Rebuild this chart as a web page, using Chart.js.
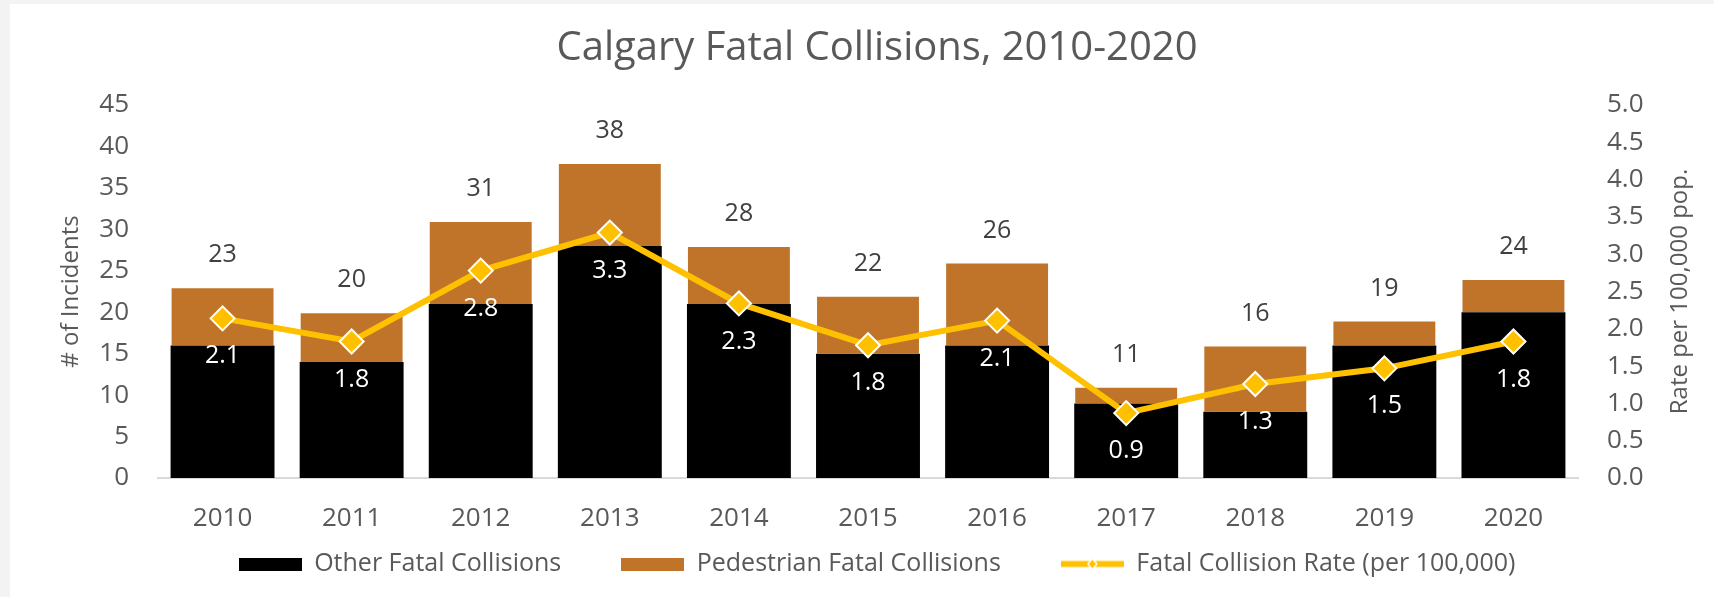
<!DOCTYPE html>
<html>
<head>
<meta charset="utf-8">
<script src="https://cdn.jsdelivr.net/npm/chart.js@4.4.1/dist/chart.umd.min.js"></script>
<style>
  body { margin: 0; background: #f3f3f3; }
  #wrap { position: absolute; left: 10px; top: 4px; width: 1704px; height: 593px; background: #fff; }
</style>
</head>
<body>
<div id="wrap"><canvas id="chart" width="1704" height="593"></canvas></div>
<script>
const years = ['2010','2011','2012','2013','2014','2015','2016','2017','2018','2019','2020'];
const other = [16, 14, 21, 28, 21, 15, 16, 9, 8, 16, 20];
const pedestrian = [7, 6, 10, 10, 7, 7, 10, 2, 8, 3, 4];
const rate = [2.14, 1.83, 2.78, 3.29, 2.34, 1.78, 2.11, 0.87, 1.26, 1.47, 1.83];

const FONT = "'Open Sans', sans-serif";
const GREY = '#595959';
const YELLOW = '#FFC000';
const ORANGE = '#C0742A';

function swatch(color){
  const c = document.createElement('canvas');
  c.width = 63; c.height = 13;
  const g = c.getContext('2d');
  g.fillStyle = color;
  g.fillRect(0, 0, 63, 13);
  return c;
}

function line_swatch(){
  const c = document.createElement('canvas');
  c.width = 63; c.height = 13;
  const g = c.getContext('2d');
  g.strokeStyle = YELLOW;
  g.lineWidth = 6;
  g.beginPath(); g.moveTo(0, 6.5); g.lineTo(63, 6.5); g.stroke();
  g.beginPath();
  g.moveTo(31.5, 1); g.lineTo(36, 6.5); g.lineTo(31.5, 12); g.lineTo(27, 6.5); g.closePath();
  g.fillStyle = YELLOW; g.fill();
  g.strokeStyle = '#fff'; g.lineWidth = 1.5; g.stroke();
  return c;
}

const legendIcons = [swatch('#000'), swatch(ORANGE), line_swatch()];
const legendText = ['Other Fatal Collisions', 'Pedestrian Fatal Collisions', 'Fatal Collision Rate (per 100,000)'];
const legendDs = [1, 2, 0];

const labelPlugin = {
  id: 'labels',
  afterDatasetsDraw(chart){
    const ctx = chart.ctx;
    const y = chart.scales.y, y1 = chart.scales.y1, x = chart.scales.x;
    ctx.save();
    ctx.textAlign = 'center';
    ctx.textBaseline = 'middle';
    ctx.font = `25px ${FONT}`;
    years.forEach(function(yr, i){
      const px = x.getPixelForValue(i);
      const total = other[i] + pedestrian[i];
      ctx.fillStyle = '#404040';
      ctx.fillText(String(total), px, y.getPixelForValue(total) - 32);
      ctx.fillStyle = '#fff';
      ctx.fillText(rate[i].toFixed(1), px, y1.getPixelForValue(rate[i]) + 38);
    });
    ctx.restore();
  },
  afterDraw(chart){
    // right axis title reads bottom-to-top like the left one
    const ctx = chart.ctx;
    const a = chart.chartArea;
    ctx.save();
    ctx.translate(1670, (a.top + a.bottom) / 2);
    ctx.rotate(-Math.PI / 2);
    ctx.textAlign = 'center';
    ctx.textBaseline = 'middle';
    ctx.font = `24px ${FONT}`;
    ctx.fillStyle = GREY;
    ctx.fillText('Rate per 100,000 pop.', 0, 0);
    ctx.restore();
  }
};

const ctx = document.getElementById('chart');
const myChart = new Chart(ctx, {
  type: 'bar',
  plugins: [labelPlugin],
  data: {
    labels: years,
    datasets: [{
      type: 'line',
      label: 'Fatal Collision Rate (per 100,000)',
      data: rate,
      yAxisID: 'y1',
      order: 0,
      borderColor: YELLOW,
      backgroundColor: YELLOW,
      borderWidth: 6,
      pointStyle: 'rectRot',
      pointRadius: 12,
      pointBackgroundColor: YELLOW,
      pointBorderColor: '#fff',
      pointBorderWidth: 2,
      tension: 0
    },{
      label: 'Other Fatal Collisions',
      data: other,
      yAxisID: 'y',
      order: 1,
      backgroundColor: '#000',
      barPercentage: 0.805,
      categoryPercentage: 1
    },{
      label: 'Pedestrian Fatal Collisions',
      data: pedestrian,
      yAxisID: 'y',
      order: 2,
      backgroundColor: ORANGE,
      borderColor: '#fff',
      borderWidth: {top: 1, left: 1, right: 1, bottom: 0},
      borderSkipped: 'bottom',
      barPercentage: 0.805,
      categoryPercentage: 1
    }]
  },
  options: {
    animation: false,
    responsive: false,
    layout: { padding: { left: 30, right: 0, top: 0, bottom: 10.5 } },
    plugins: {
      tooltip: { enabled: false },
      title: {
        display: true,
        text: 'Calgary Fatal Collisions, 2010-2020',
        color: GREY,
        font: { family: FONT, size: 40, weight: 'normal' },
        padding: { top: 21, bottom: 32 }
      },
      legend: {
        position: 'bottom',
        labels: {
          usePointStyle: true,
          pointStyleWidth: 63,
          boxHeight: 13,
          padding: 10,
          color: GREY,
          font: { family: FONT, size: 25 },
          generateLabels: function(chart){
            return legendDs.map(function(ds, k){
              return {
                text: legendText[k] + (k < 2 ? '\u2003\u2003' : ''),
                pointStyle: legendIcons[k],
                fillStyle: 'transparent',
                strokeStyle: 'transparent',
                lineWidth: 0,
                fontColor: GREY,
                datasetIndex: ds,
                hidden: false
              };
            });
          }
        }
      }
    },
    scales: {
      x: {
        stacked: true,
        grid: { display: false },
        border: { display: true, color: '#d9d9d9', width: 2 },
        ticks: { color: GREY, font: { family: FONT, size: 26 }, padding: 17 },
        afterFit: function(s){ s.height = 63.5; }
      },
      y: {
        stacked: true,
        position: 'left',
        min: 0, max: 45,
        grid: { display: false },
        border: { display: false },
        ticks: { stepSize: 5, color: GREY, font: { family: FONT, size: 26 }, padding: 21 },
        title: { display: true, text: '# of Incidents', color: GREY, font: { family: FONT, size: 24 }, padding: { top: 17, bottom: 0 } },
        afterFit: function(s){ s.width = 118; }
      },
      y1: {
        position: 'right',
        min: 0, max: 5,
        grid: { display: false },
        border: { display: false },
        ticks: { stepSize: 0.5, color: GREY, font: { family: FONT, size: 26 }, padding: 21,
          callback: function(v){ return Number(v).toFixed(1); } },
        afterFit: function(s){ s.width = 136; }
      }
    }
  }
});
</script>
</body>
</html>
